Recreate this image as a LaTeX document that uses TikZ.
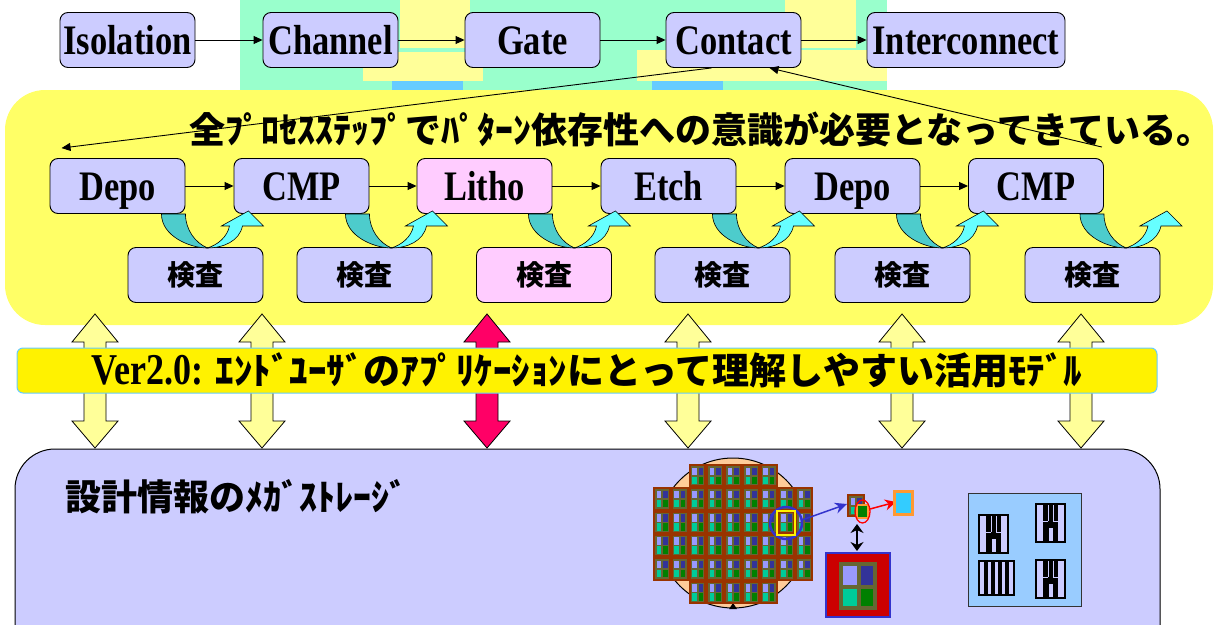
\documentclass[tikz,border=0pt]{standalone}
\usepackage{fontspec}
\setmainfont{Liberation Serif}
\newfontfamily\labelfont[FakeStretch=0.82]{Liberation Serif}
\newfontfamily\jpfont{Noto Sans CJK JP}
\usetikzlibrary{arrows.meta}
\definecolor{boxblue}{HTML}{CCCCFF}
\definecolor{boxpink}{HTML}{FFCCFF}
\definecolor{panelyellow}{HTML}{FFFF66}
\definecolor{mint}{HTML}{99FFCC}
\definecolor{paleyellow}{HTML}{FFFF99}
\definecolor{skyblue}{HTML}{66CCFF}
\definecolor{banddark}{HTML}{4DCCCC}
\definecolor{bandlight}{HTML}{66FFFF}
\definecolor{hotpink}{HTML}{FF0066}
\definecolor{peach}{HTML}{FFCC99}
\definecolor{diebrown}{HTML}{993300}
\definecolor{dieolive}{HTML}{666633}
\definecolor{celllilac}{HTML}{9999FF}
\definecolor{cellnavy}{HTML}{333399}
\definecolor{cellteal}{HTML}{00CC99}
\definecolor{cellgreen}{HTML}{008000}
\definecolor{markblue}{HTML}{3333CC}
\definecolor{markorange}{HTML}{FF9933}
\definecolor{markcyan}{HTML}{33CCFF}
\definecolor{layoutblue}{HTML}{99CCFF}
\definecolor{darkred}{HTML}{CC0000}
% curved hand-off arrow from a step to the next one via its inspection
\newcommand{\handoff}[1]{%
  \begin{scope}[shift={(#1.south east)},line width=0.6pt]
    \draw[fill=banddark] (-24,0) .. controls (-24,22) and (4,34) .. (22,34)
      .. controls (10,29) and (0,16) .. (0,0) -- cycle;
    \draw[fill=bandlight] (22,34) .. controls (38,34) and (54,27) .. (57,12)
      -- (78,12) -- (63,-3) -- (36,12) -- (44,12)
      .. controls (42,23) and (32,31) .. (22,34) -- cycle;
  \end{scope}}
% two-headed block arrow between the panels
\newcommand{\linkarrow}[2]{%
  \draw[fill=#2,line width=0.8pt] (#1,314) -- (#1+23,342) -- (#1+11,342) -- (#1+11,421)
    -- (#1+23,421) -- (#1,448) -- (#1-23,421) -- (#1-11,421) -- (#1-11,342)
    -- (#1-23,342) -- cycle;}
% one die of the wafer, top left corner given
\newcommand{\waferdie}[2]{%
  \fill[diebrown] (#1,#2) rectangle ++(17.8,23.3);
  \fill[dieolive] (#1+2,#2+2) rectangle ++(13.8,19.3);
  \fill[celllilac] (#1+3.5,#2+3.5) rectangle ++(4.5,7.5);
  \fill[cellnavy] (#1+10,#2+3.5) rectangle ++(4.5,7.5);
  \fill[cellteal] (#1+3.5,#2+12.5) rectangle ++(4.5,7.5);
  \fill[cellgreen] (#1+10,#2+12.5) rectangle ++(4.5,7.5);}
% small layout cell
\newcommand{\layoutcell}[2]{%
  \begin{scope}[shift={(#1,#2)}]
    \fill[boxblue] (0,0) rectangle (29,38);
    \fill[black] (7,0) rectangle (22,38);
    \draw[boxblue,line width=1pt] (12,1) -- (12,17) (17,1) -- (17,17)
      (7,17) -- (12,17) (17,17) -- (22,17);
    \fill[boxblue] (12.5,24) rectangle (16.5,36.5);
    \draw[line width=1.5pt] (0,0) rectangle (29,38);
  \end{scope}}

\begin{document}
\begin{tikzpicture}[x=1pt,y=-1pt,>={Triangle[length=9pt,width=8pt]},
  procbox/.style={draw,line width=0.9pt,rounded corners=8pt,fill=boxblue,
    minimum width=135pt,minimum height=55pt,inner sep=0pt,
    text height=28pt,text depth=0pt,
    font=\labelfont\bfseries\fontsize{42}{42}\selectfont},
  inspbox/.style={draw,line width=0.9pt,rounded corners=8pt,fill=boxblue,
    minimum width=135pt,minimum height=55pt,inner sep=0pt,
    font=\jpfont\bfseries\fontsize{28}{28}\selectfont},
  jptext/.style={inner sep=0pt,font=\jpfont\bfseries\fontsize{36}{36}\selectfont},
  flow/.style={->,line width=1pt}]
\clip (0,0) rectangle (1214,624);

% patches behind the front-end row
\fill[mint] (240,0) rectangle (887,90);
\fill[paleyellow] (400,0) rectangle (470,48);
\fill[paleyellow] (363,52) rectangle (483,81);
\fill[skyblue] (392,81) rectangle (463,90);
\fill[paleyellow] (785,0) rectangle (856,48);
\fill[paleyellow] (637,50) rectangle (887,81);
\fill[skyblue] (652,81) rectangle (723,90);

% panels
\draw[fill=panelyellow,draw=none,rounded corners=40pt] (5,90) rectangle (1213,325);
\draw[fill=boxblue,line width=1pt,rounded corners=40pt] (15,449) rectangle (1160,680);

% module flow
\node[procbox] (iso) at (127.5,40) {Isolation};
\node[procbox] (chan) at (330.5,40) {Channel};
\node[procbox] (gate) at (532.5,40) {Gate};
\node[procbox] (cont) at (733.5,40) {Contact};
\node[procbox,minimum width=198pt] (inter) at (966,40) {Interconnect};
\draw[flow] (iso) -- (chan);
\draw[flow] (chan) -- (gate);
\draw[flow] (gate) -- (cont);
\draw[flow] (cont) -- (inter);

\node[jptext] (need) at (701,130) {全ﾌﾟﾛｾｽｽﾃｯﾌﾟでﾊﾟﾀｰﾝ依存性への意識が必要となってきている。};

% process steps
\node[procbox] (depoA) at (117.5,186) {Depo};
\node[procbox] (cmpA) at (301.5,186) {CMP};
\node[procbox,fill=boxpink] (litho) at (484.5,186) {Litho};
\node[procbox] (etch) at (668.5,186) {Etch};
\node[procbox] (depoB) at (852.5,186) {Depo};
\node[procbox] (cmpB) at (1036,186) {CMP};
\draw[flow] (depoA) -- (cmpA);
\draw[flow] (cmpA) -- (litho);
\draw[flow] (litho) -- (etch);
\draw[flow] (etch) -- (depoB);
\draw[flow] (depoB) -- (cmpB);

% inspections
\node[inspbox] (insA) at (195.5,275) {検査};
\node[inspbox] (insB) at (364.5,275) {検査};
\node[inspbox,fill=boxpink] (insC) at (544,275) {検査};
\node[inspbox] (insD) at (722.5,275) {検査};
\node[inspbox] (insE) at (902.5,275) {検査};
\node[inspbox] (insF) at (1092.5,275) {検査};
\foreach \s in {depoA,cmpA,litho,etch,depoB,cmpB}
  {\handoff{\s}}

% expanding from Contact into the step loop
\draw[->,line width=0.9pt] ([xshift=-22pt]cont.south) -- ([xshift=12pt,yshift=10pt]depoA.north west);
\draw[->,line width=0.9pt] ([xshift=-2pt,yshift=11pt]cmpB.north east) -- ([xshift=36pt]cont.south);

% links to the storage
\linkarrow{95}{paleyellow}
\linkarrow{262}{paleyellow}
\linkarrow{487}{hotpink}
\linkarrow{688}{paleyellow}
\linkarrow{902}{paleyellow}
\linkarrow{1081}{paleyellow}

\node[draw=skyblue,line width=1pt,fill=yellow,rounded corners=6pt,
  minimum width=1140pt,minimum height=45pt,inner sep=0pt] (ver) at (587,370.5)
  {\labelfont\bfseries\fontsize{44}{44}\selectfont Ver2.0: \jpfont\fontsize{37}{37}\selectfont ｴﾝﾄﾞﾕｰｻﾞのｱﾌﾟﾘｹｰｼｮﾝにとって理解しやすい活用ﾓﾃﾞﾙ};

\node[jptext,anchor=west] (store) at (65,497) {設計情報のﾒｶﾞｽﾄﾚｰｼﾞ};

% wafer map
\draw[fill=peach,line width=1pt] (733,533) circle[radius=75pt];
\fill (733,603) -- (729,609) -- (737,609) -- cycle;
\foreach \c in {2,...,6} {
  \waferdie{653+17.8*\c}{464}
  \waferdie{653+17.8*\c}{464+23.3*5}
}
\foreach \r in {1,...,4} {
  \foreach \c in {0,...,8} {
    \waferdie{653+17.8*\c}{464+23.3*\r}
  }
}
\draw[markblue,line width=2.5pt] (786,523) circle[radius=16pt];
\draw[yellow,line width=2.5pt] (777,511) rectangle (795,535);
\draw[-{Stealth[length=12pt,width=11pt]},markblue,line width=1.5pt] (802,520) -- (847,504);
\waferdie{847}{494}
\draw[markorange,line width=2pt,fill=cellgreen] (857,505) rectangle (868,518);
\draw[red,line width=1.3pt] (862.5,511.5) ellipse[x radius=7.5pt,y radius=11.5pt];
\draw[-{Stealth[length=11pt,width=11pt]},red,line width=1.5pt] (870,509) -- (896,502);
\draw[markorange,line width=3pt,fill=markcyan] (894.5,491.5) rectangle (912.5,514.5);
\draw[{Stealth[length=9pt,width=13pt]}-{Stealth[length=9pt,width=13pt]},line width=1.5pt] (857,524) -- (857,551);
\draw[markblue,line width=1.5pt,fill=darkred] (826,553) rectangle (890,617);
\fill[dieolive] (839,562) rectangle (877,610);
\fill[celllilac] (843,566) rectangle (857,585);
\fill[cellnavy] (861,566) rectangle (873,585);
\fill[cellteal] (843,589) rectangle (857,606);
\fill[cellgreen] (861,589) rectangle (873,606);

% layout library
\draw[fill=layoutblue,line width=1pt,draw=black!80] (968,493) rectangle (1081,606);
\layoutcell{979}{515}
\layoutcell{1036}{504}
\layoutcell{1036}{560}
\fill[boxblue] (979,561) rectangle (1014,595);
\foreach \u in {984,991,998,1005}
  \fill[black] (\u,561) rectangle (\u+4,595);
\draw[line width=1.5pt] (979,561) rectangle (1014,595);
\end{tikzpicture}
\end{document}
